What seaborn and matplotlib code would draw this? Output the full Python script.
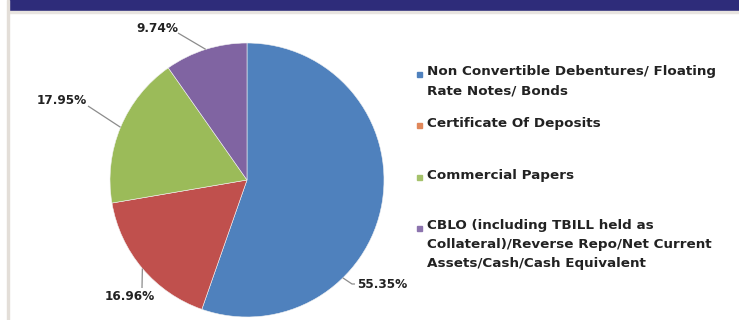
import matplotlib
matplotlib.use("Agg")
import matplotlib.pyplot as plt
import seaborn as sns
import numpy as np
from matplotlib.patches import Rectangle

# ---- data ----
categories = [
    "Non Convertible Debentures/ Floating Rate Notes/ Bonds",
    "Certificate Of Deposits",
    "Commercial Papers",
    "CBLO (including TBILL held as Collateral)/Reverse Repo/Net Current Assets/Cash/Cash Equivalent",
]
legend_lines = [
    ["Non Convertible Debentures/ Floating", "Rate Notes/ Bonds"],
    ["Certificate Of Deposits"],
    ["Commercial Papers"],
    ["CBLO (including TBILL held as", "Collateral)/Reverse Repo/Net Current", "Assets/Cash/Cash Equivalent"],
]
values = [55.35, 16.96, 17.95, 9.74]
pct_labels = ["55.35%", "16.96%", "17.95%", "9.74%"]

# ---- styles ----
wedge_colors = ["#4F81BD", "#C0504D", "#9BBB59", "#8064A2"]
legend_colors = ["#4F81BD", "#E0875A", "#A5C26B", "#8C74AE"]
text_color = "#222222"

sns.set_style("white")
plt.rcParams["font.family"] = ["DejaVu Sans"]

W, H = 739, 320
fig = plt.figure(figsize=(W / 100, H / 100), dpi=100)
fig.patch.set_facecolor("white")

# pie axes: center at (247,180) px from top-left, radius 137 px
R = 137.0
cx, cy = 247.0, 180.0
ax_h = 2 * (H - cy)
ax = fig.add_axes([0, 0, (2 * cx) / W, ax_h / H])
wedges, _ = ax.pie(values, colors=wedge_colors, startangle=90, counterclock=False,
                   radius=1, wedgeprops=dict(edgecolor="#F2F2F2", linewidth=0.4))
ax.set_xlim(-cx / R, cx / R)
ax.set_ylim(-(H - cy) / R, (H - cy) / R)
ax.set_aspect("equal", adjustable="box")
ax.axis("off")


def px(x, y):
    """pixel (from top-left) -> data coords of pie axes"""
    return (x - cx) / R, (cy - y) / R


# wedge mid angles
cum = np.cumsum([0] + values)
mid_deg = [90 - 3.6 * (cum[i] + cum[i + 1]) / 2 for i in range(len(values))]
anchor_deg = [-45.6, mid_deg[1], mid_deg[2], mid_deg[3]]

# label layout: leader intermediate points (pixels), text position (pixels), alignment
leader_pts = [
    [(352, 284), (355, 284)],
    [(142, 288)],
    [(88, 106)],
    [(178, 33)],
]
text_pos = [(357, 284), (130, 297), (87, 101), (178, 28)]
text_ha = ["left", "center", "right", "right"]

for i, lab in enumerate(pct_labels):
    a = np.deg2rad(anchor_deg[i])
    xs = [np.cos(a)]
    ys = [np.sin(a)]
    for (lx, ly) in leader_pts[i]:
        dx, dy = px(lx, ly)
        xs.append(dx)
        ys.append(dy)
    ax.plot(xs, ys, color="#8C8C8C", lw=0.9, clip_on=False, solid_capstyle="butt")
    tx, ty = px(*text_pos[i])
    ax.text(tx, ty, lab, ha=text_ha[i], va="center", fontsize=8.7,
            fontweight="bold", color=text_color, clip_on=False)

# ---- legend (manual layout, matching uneven spacing) ----
first_line_y = [72, 123, 175, 226]
line_h = 18.5
text_x = 427
for i, lines in enumerate(legend_lines):
    for j, ln in enumerate(lines):
        y = first_line_y[i] + j * line_h
        fig.text(text_x / W, 1 - y / H, ln, ha="left", va="center",
                 fontsize=9.7, fontweight="bold", color=text_color)
    my = first_line_y[i] + 2
    fig.patches.append(Rectangle((417 / W, 1 - (my + 2.5) / H), 5 / W, 5 / H,
                                 transform=fig.transFigure, color=legend_colors[i]))

# ---- frame decorations ----
fig.patches.append(Rectangle((8 / W, 1 - 11 / H), 1, 11 / H, transform=fig.transFigure,
                             color="#2E2C7A", zorder=5))
fig.patches.append(Rectangle((8 / W, 1 - 13 / H), 1, 2 / H, transform=fig.transFigure,
                             color="#E8E4E0", zorder=5))
fig.patches.append(Rectangle((7 / W, 0), 2 / W, 1, transform=fig.transFigure,
                             color="#E3DED8", zorder=5))

fig.savefig("out.png", dpi=100)
